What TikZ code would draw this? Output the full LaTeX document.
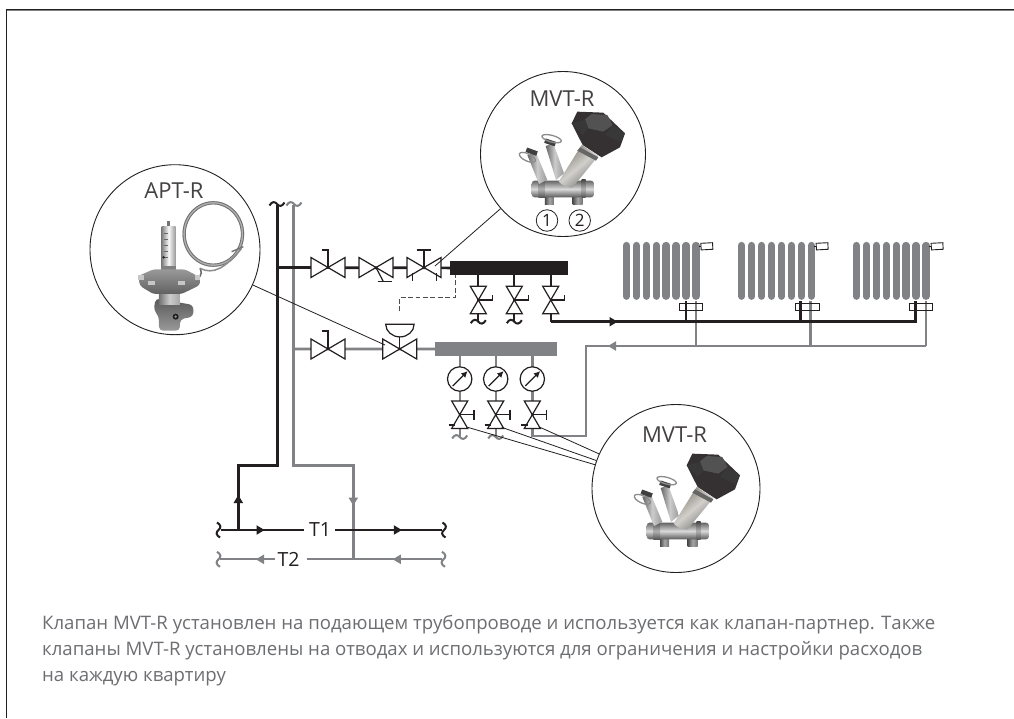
\documentclass[tikz,border=0pt]{standalone}
\usepackage{fontspec}
\usetikzlibrary{arrows.meta}
\setmainfont{Open Sans}
\definecolor{ink}{HTML}{231F20}
\definecolor{pipegray}{HTML}{808285}
\definecolor{txt}{HTML}{6D6E71}
\definecolor{brass}{HTML}{9C968C}
\tikzset{
  blackpipe/.style={draw=ink,line width=2.7pt,line join=miter},
  graypipe/.style={draw=pipegray,line width=2.7pt,line join=miter},
  thin ink/.style={draw=ink,line width=1.2pt},
  leader/.style={draw=ink,line width=0.8pt},
  lens/.style={circle,draw=ink,line width=0.9pt,fill=white,inner sep=0pt},
  caption/.style={anchor=base west,inner sep=0pt,text=txt,font=\fontsize{18.6}{22}\selectfont},
  tag/.style={inner sep=0pt,text=ink!85,font=\fontsize{22}{26}\selectfont},
  bowh/.pic={\draw[thin ink,fill=white,line join=miter] (-17,-10)--(17,10)--(17,-10)--(-17,10)--cycle;},
  bowv/.pic={\draw[thin ink,fill=white,line join=miter] (-8,-13.7)--(8,13.7)--(-8,13.7)--(8,-13.7)--cycle;},
  wavy/.pic={\draw[line width=2pt,pic actions] (-7.5,1.5) .. controls (-5,-3) and (-2,-2.5) .. (0,0) .. controls (2,2.5) and (5,3) .. (7.5,-1.5);},
  tip/.pic={\fill[pic actions] (4.5,0)--(-3.5,-4.8)--(-3.5,4.8)--cycle;},
  head/.pic={\draw[thin ink,line width=0.9pt,fill=white,rotate=3] (0,-3.3) rectangle (11.7,3.3);
             \draw[thin ink,line width=0.9pt] (-2,0)--(0,0);},
}
\newcommand{\mvtphoto}{%
  % feet
  \shade[left color=black!70,right color=black!55,middle color=black!35] (225,372) rectangle (252,405);
  \shade[left color=black!70,right color=black!55,middle color=black!35] (308,372) rectangle (338,405);
  % pipe
  \shade[top color=black!60,bottom color=black!65,middle color=black!15,rounded corners=3pt] (185,332) rectangle (372,382);
  \shade[top color=black!70,bottom color=black!70,middle color=black!30] (205,330) rectangle (225,384);
  \shade[top color=black!70,bottom color=black!70,middle color=black!30] (335,330) rectangle (347,384);
  % tubes
  \shade[left color=black!60,right color=black!40,middle color=black!20] (207,342)--(232,330)--(197,245)--(172,255)--cycle;
  \shade[left color=black!60,right color=black!40,middle color=black!20] (258,330)--(282,310)--(250,220)--(227,228)--cycle;
  \fill[black!75,rotate around={-20:(185,245)}] (168,238) rectangle (202,252);
  \fill[black!75,rotate around={-18:(240,217)}] (224,210) rectangle (257,224);
  \draw[black!45,line width=1.3pt] (172,262) ellipse [x radius=26,y radius=11,rotate=-25];
  \draw[black!45,line width=1.3pt] (245,206) ellipse [x radius=30,y radius=10,rotate=-15];
  % stem
  \shade[left color=brass!80!black,right color=black!55,middle color=brass!45,shading angle=40] (266,335) .. controls (275,345) and (295,355) .. (308,352)--(385,258)--(335,225)--cycle;
  \fill[black!60] (330,232)--(385,262)--(378,272)--(322,242)--cycle;
  % knob
  \fill[ink!92] (322,125)--(400,128)--(465,190)--(450,232)--(395,262)--(338,225)--(305,160)--cycle;
  \fill[black!68] (345,148)--(365,132)--(412,135)--(428,165)--(400,185)--(355,175)--cycle;
  \fill[black!78] (305,160)--(345,150)--(355,175)--(338,195)--cycle;
  \fill[black!78] (428,165)--(465,190)--(450,215)--(405,195)--cycle;
}
\newcommand{\aptphoto}{%
  % capillary coil
  \draw[black!30,line width=3pt] (385,192) ellipse [x radius=88,y radius=94];
  \draw[black!55,line width=0.9pt] (385,192) ellipse [x radius=91,y radius=97];
  \draw[black!55,line width=0.9pt] (385,192) ellipse [x radius=84,y radius=90];
  \draw[black!55,line width=1.4pt] (475,230) -- (440,245);
  \draw[black!60,line width=1.5pt] (345,295) .. controls (350,305) and (352,315) .. (335,330);
  \draw[black!45,line width=1.5pt] (345,295) .. controls (385,315) and (420,295) .. (470,235);
  % scale tube
  \fill[black!55] (245,152) rectangle (256,172);
  \shade[left color=black!50,right color=black!40,middle color=black!3] (230,170) rectangle (272,292);
  \foreach \yy in {190,208,226,244,262} {\draw[black!60,line width=0.7pt] (238,\yy)--(250,\yy);}
  \fill[black!85] (236,262) circle (4);
  \fill[black!50] (228,288) rectangle (274,315);
  % lower body
  \shade[top color=black!65,bottom color=black!40,rounded corners=4pt] (212,385)--(325,405)--(325,440)--(285,448)--(285,482)--(222,482)--(222,440)--(206,420)--cycle;
  \shade[left color=black!55,right color=black!35,middle color=black!20] (222,365) rectangle (285,405);
  \fill[black!88] (272,440) circle (9);
  \fill[black!45] (272,440) circle (4);
  % diaphragm plate
  \shade[top color=black!40,bottom color=black!62,rounded corners=3pt] (160,318)--(205,298)--(300,298)--(345,322)--(345,345)--(290,372)--(205,372)--(165,348)--cycle;
  \fill[black!22] (190,332) rectangle (210,345);
  \fill[black!22] (280,332) rectangle (300,345);
  \fill[black!22] (160,316) rectangle (176,330);
  \fill[black!22] (330,316) rectangle (345,330);
}
\begin{document}
\begin{tikzpicture}[x=1pt,y=-1pt]
\useasboundingbox (0,0) rectangle (1014,718);
\fill[white] (0,0) rectangle (1014,718);
\draw[pipegray,line width=0.9pt] (1014,10.6) -- (7,10.6);
\draw[ink,line width=1.5pt] (1014,9.5) -- (6.5,9.5) -- (6.5,718);

% ---- named points
\coordinate (blackTop) at (277.5,205);
\coordinate (grayTop) at (293.5,205);
\coordinate (blackTee) at (277.5,267.5);
\coordinate (grayTee) at (293.5,349);
\coordinate (vA) at (328,267.5);
\coordinate (vB) at (376,267.5);
\coordinate (vC) at (424,267.5);
\coordinate (vD) at (328,349);
\coordinate (vE) at (399.7,349);
\node[fill=ink,minimum width=118.3pt,minimum height=14.3pt,inner sep=0pt] (barTop) at (509.2,267.9) {};
\node[fill=pipegray,minimum width=121.7pt,minimum height=14.3pt,inner sep=0pt] (barLow) at (495.9,348.9) {};
\coordinate (dA) at (478.3,300);
\coordinate (dB) at (514.3,300);
\coordinate (dC) at (550.7,300);
\coordinate (wA) at (478.3,321.5);
\coordinate (wB) at (514.3,321.5);
\coordinate (turnS) at (550.7,321.7);
\coordinate (endS) at (915.5,321.7);
\coordinate (riseA) at (686,301);
\coordinate (riseB) at (800.7,301);
\coordinate (riseC) at (915.5,301);
\coordinate (baseA) at (686,321.7);
\coordinate (baseB) at (800.7,321.7);
\coordinate (retEnd) at (926,346);
\coordinate (retTop) at (926,301);
\coordinate (retCorner) at (586,346);
\coordinate (retLow) at (586,436);
\coordinate (retIn) at (532.3,436);
\coordinate (upA) at (696,301);
\coordinate (upB) at (810.7,301);
\coordinate (joinA) at (696,346);
\coordinate (joinB) at (810.7,346);

% ---- lower mains
\coordinate (t1L) at (221,530);
\coordinate (t1R) at (442,530);
\coordinate (t1a) at (303.5,530);
\coordinate (t1b) at (335,530);
\coordinate (t2L) at (220,559.3);
\coordinate (t2a) at (275,559.3);
\coordinate (t2b) at (306.7,559.3);
\coordinate (t2R) at (442,559.3);
\coordinate (bk1) at (277.5,465.7);
\coordinate (bk2) at (238.3,465.7);
\coordinate (bk3) at (238.3,530);
\coordinate (gr1) at (293.5,465);
\coordinate (gr2) at (353.3,465);
\coordinate (gr3) at (353.3,559.3);

% ---- radiators
\foreach \xo in {626.3,741.7,856.3}{
  \foreach \n in {0,...,7}{
    \draw[pipegray,line width=7.3pt,line cap=round] ({\xo+\n*9.96},245.5)--({\xo+\n*9.96},296.2);
  }
}

% ---- gray pipes
\draw[graypipe,line width=3pt] (grayTop) -- (gr1) -- (gr2) -- (gr3);
\draw[graypipe] (grayTee) -- (barLow.west);
\draw[graypipe,line width=2.2pt] (t2L) -- (t2a) (t2b) -- (t2R);
\draw[graypipe] (retEnd) -- (retCorner) -- (retLow) -- (retIn) -- (532.3,356);
\draw[graypipe] (retTop) -- (retEnd);
\draw[graypipe] (upA) -- (joinA);
\draw[graypipe] (upB) -- (joinB);
\draw[graypipe,line width=2.2pt] (459.7,356) -- (459.7,437);
\draw[graypipe,line width=2.2pt] (495.7,356) -- (495.7,437);

% ---- black pipes
\draw[blackpipe,line width=3pt] (blackTop) -- (bk1) -- (bk2) -- (bk3);
\draw[blackpipe] (blackTee) -- (barTop.west);
\draw[blackpipe,line width=2.2pt] (t1L) -- (t1a) (t1b) -- (t1R);
\draw[blackpipe,line width=2.2pt] (478.3,275) -- (wA);
\draw[blackpipe,line width=2.2pt] (514.3,275) -- (wB);
\draw[blackpipe,line width=2.2pt] (550.7,275) -- (turnS);
\draw[blackpipe] (turnS) -- (endS) -- (riseC);
\draw[blackpipe] (baseA) -- (riseA);
\draw[blackpipe] (baseB) -- (riseB);

% ---- collars and thermostatic heads
\foreach \xo/\nm in {679.3/a,795.7/b,909.3/c}{
  \draw[thin ink,line width=0.9pt] (\xo,303.3) rectangle +(23.4,7.4);
}
\pic at (701,246.6) {head};
\pic at (816.3,246.6) {head};
\pic at (931.3,246.6) {head};

% ---- pipe ends
\pic[draw=ink] at (277,204) {wavy};
\pic[draw=pipegray] at (294,204) {wavy};
\pic[draw=ink] at (478.3,321.7) {wavy};
\pic[draw=ink] at (514.3,321.7) {wavy};
\pic[draw=pipegray] at (459.7,437) {wavy};
\pic[draw=pipegray] at (495.7,437) {wavy};
\pic[draw=ink,rotate=90] at (218.5,530) {wavy};
\pic[draw=ink,rotate=90] at (444,530) {wavy};
\pic[draw=pipegray,rotate=90] at (218.5,559.3) {wavy};
\pic[draw=pipegray,rotate=90] at (443.5,559.3) {wavy};

% ---- flow arrows
\pic[fill=ink] at (613,321.7) {tip};
\pic[fill=pipegray,rotate=180] at (612.5,346) {tip};
\pic[fill=ink,rotate=90] at (238.3,499.5) {tip};
\pic[fill=ink] at (260,530) {tip};
\pic[fill=ink] at (397.3,530) {tip};
\pic[fill=pipegray,rotate=-90] at (353.3,501) {tip};
\pic[fill=pipegray,rotate=180] at (260.5,559.3) {tip};
\pic[fill=pipegray,rotate=180] at (397.3,559.3) {tip};

% ---- valves on the supply line
\pic at (vA) {bowh};
\draw[thin ink] (vA) -- (328,250) -- (321.5,250);
\pic at (vB) {bowh};
\draw[thin ink] (vB) -- (383.3,281.5);
\draw[thin ink] (377.7,281.5) -- (391.7,281.5);
\pic at (vC) {bowh};
\draw[thin ink] (vC) -- (424,250);
\draw[thin ink] (416.7,250) -- (431,250);
\draw[thin ink] (412.3,273) -- (412.3,281);
\draw[thin ink] (436.7,273) -- (436.7,281);

% ---- valves on the return line
\pic at (vD) {bowh};
\draw[thin ink] (vD) -- (328,331) -- (321.5,331);
\pic at (vE) {bowh};
\draw[thin ink] (vE) -- (399.7,324);
\draw[thin ink,fill=white] (385.7,324.3) arc[start angle=180,end angle=0,x radius=14.2,y radius=12.6] -- cycle;
\draw[black!70,line width=1.3pt,dash pattern=on 4.8pt off 2.6pt] (399.7,311) -- (399.7,297.3) -- (455.3,297.3) -- (455.3,275);

% ---- supply drop valves
\foreach \c in {dA,dB,dC}{
  \pic at (\c) {bowv};
  \draw[thin ink] (\c) -- ++(14,0) -- ++(0,-5);
}
% ---- gauges and return drop valves
\foreach \gx/\gn in {459.7/gA,495.7/gB,532.3/gC}{
  \node[circle,draw=ink,line width=1.2pt,fill=white,minimum size=24.4pt,inner sep=0pt] (\gn) at (\gx,379) {};
  \draw[-{Latex[length=6.5pt,width=6.5pt]},ink,line width=1.3pt] (\gx-7,386) -- (\gx+8,371);
  \pic at (\gx,414.7) {bowv};
  \draw[thin ink] (\gx,414.7) -- ++(14.3,0) ++(0,-5) -- ++(0,10);
  \draw[thin ink] (\gx-11,425) -- (\gx-4.5,425);
}

% ---- leaders and lenses
\node[lens,minimum size=170pt] (lensApt) at (175,249.7) {};
\node[lens,minimum size=165pt] (lensTop) at (563,154) {};
\node[lens,minimum size=168pt] (lensLow) at (676,488.5) {};
\coordinate (ldApt) at (385,345);
\coordinate (ldTop) at (435,266);
\coordinate (ldA) at (467.7,427.3);
\coordinate (ldB) at (501.7,427.3);
\coordinate (ldC) at (540,427.3);
\draw[leader] (ldApt) -- (lensApt);
\draw[leader] (ldTop) -- (lensTop);
\draw[leader] (ldA) -- (lensLow);
\draw[leader] (ldB) -- (lensLow);
\draw[leader] (ldC) -- (lensLow);

% ---- photographs
\begin{scope}[shift={(470,70)},x=0.3333pt,y=-0.3333pt]\mvtphoto\end{scope}
\begin{scope}[shift={(585,412)},x=0.3333pt,y=-0.3333pt]\mvtphoto\end{scope}
\begin{scope}[shift={(85,170)},x=0.3333pt,y=-0.3333pt]\aptphoto\end{scope}

% ---- labels
\node[tag] (lblTop) at (562,98.5) {MVT-R};
\node[tag] (lblLow) at (674.5,434.5) {MVT-R};
\node[tag] (lblApt) at (174,191) {APT-R};
\node[circle,draw=ink,line width=0.8pt,minimum size=21.5pt,inner sep=0pt,text=ink,font=\fontsize{17}{20}\selectfont] (no1) at (547,220.5) {1};
\node[circle,draw=ink,line width=0.8pt,minimum size=21.5pt,inner sep=0pt,text=ink,font=\fontsize{17}{20}\selectfont] (no2) at (579.7,220.5) {2};
\node[inner sep=0pt,text=ink,font=\fontsize{19.5}{22}\selectfont] (lblT1) at (320,530) {T1};
\node[inner sep=0pt,text=ink,font=\fontsize{19.5}{22}\selectfont] (lblT2) at (288.5,559.5) {T2};
\node[caption] (capA) at (42,629) {Клапан MVT-R установлен на подающем трубопроводе и используется как клапан-партнер. Также};
\node[caption] (capB) at (42,655.5) {клапаны MVT-R установлены на отводах и используются для ограничения и настройки расходов};
\node[caption] (capC) at (42,681.5) {на каждую квартиру};
\end{tikzpicture}
\end{document}
